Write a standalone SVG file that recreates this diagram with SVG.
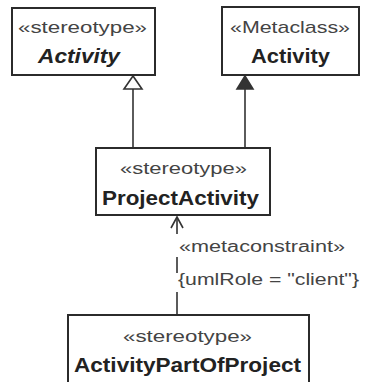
<svg xmlns="http://www.w3.org/2000/svg" width="366" height="382" viewBox="0 0 366 382">
<style>
.box{fill:#fff;stroke:#2b2b2b;stroke-width:2}
.st{font-family:"Liberation Sans",Arial,sans-serif;font-size:17px;fill:#444;text-anchor:start}
.nm{font-family:"Liberation Sans",Arial,sans-serif;font-size:21px;font-weight:bold;fill:#222;text-anchor:start}
.lbl{font-family:"Liberation Sans",Arial,sans-serif;font-size:16px;fill:#444}
.ln{stroke:#333;stroke-width:1.6;fill:none}
</style>
<rect width="366" height="382" fill="#fff"/>
<g id="connectors">
<line class="ln" x1="133" y1="148" x2="133" y2="89"/>
<polygon points="133,76 124,89 142,89" fill="#fff" stroke="#333" stroke-width="1.6"/>
<line class="ln" x1="245" y1="148" x2="245" y2="89"/>
<polygon points="245,76 237,89 253,89" fill="#333" stroke="#333" stroke-width="1.6"/>
<path class="ln" d="M177,218 V234 M177,257 V273 M177,292 V315"/>
<polyline class="ln" points="171,228 177,217 183,228"/>
<text class="lbl" x="179" y="252" textLength="166" lengthAdjust="spacingAndGlyphs">«metaconstraint»</text>
<text class="lbl" x="178" y="285" textLength="181" lengthAdjust="spacingAndGlyphs">{umlRole = "client"}</text>
</g>
<g id="stereotypeActivity">
<rect class="box" x="12" y="8" width="143" height="67"/>
<text class="st" x="18" y="33" textLength="129" lengthAdjust="spacingAndGlyphs">«stereotype»</text>
<text class="nm" x="38" y="63" font-style="italic" textLength="82" lengthAdjust="spacingAndGlyphs">Activity</text>
</g>
<g id="metaclassActivity">
<rect class="box" x="222" y="7" width="137" height="68"/>
<text class="st" x="230" y="33" textLength="120" lengthAdjust="spacingAndGlyphs">«Metaclass»</text>
<text class="nm" x="251" y="63" textLength="79" lengthAdjust="spacingAndGlyphs">Activity</text>
</g>
<g id="projectActivity">
<rect class="box" x="96" y="148" width="174" height="67"/>
<text class="st" x="120" y="174" textLength="127" lengthAdjust="spacingAndGlyphs">«stereotype»</text>
<text class="nm" x="102" y="205" textLength="157" lengthAdjust="spacingAndGlyphs">ProjectActivity</text>
</g>
<g id="activityPartOfProject">
<rect class="box" x="68" y="315" width="241" height="80"/>
<text class="st" x="123" y="342" textLength="129" lengthAdjust="spacingAndGlyphs">«stereotype»</text>
<text class="nm" x="74" y="372" textLength="227" lengthAdjust="spacingAndGlyphs">ActivityPartOfProject</text>
</g>
</svg>
